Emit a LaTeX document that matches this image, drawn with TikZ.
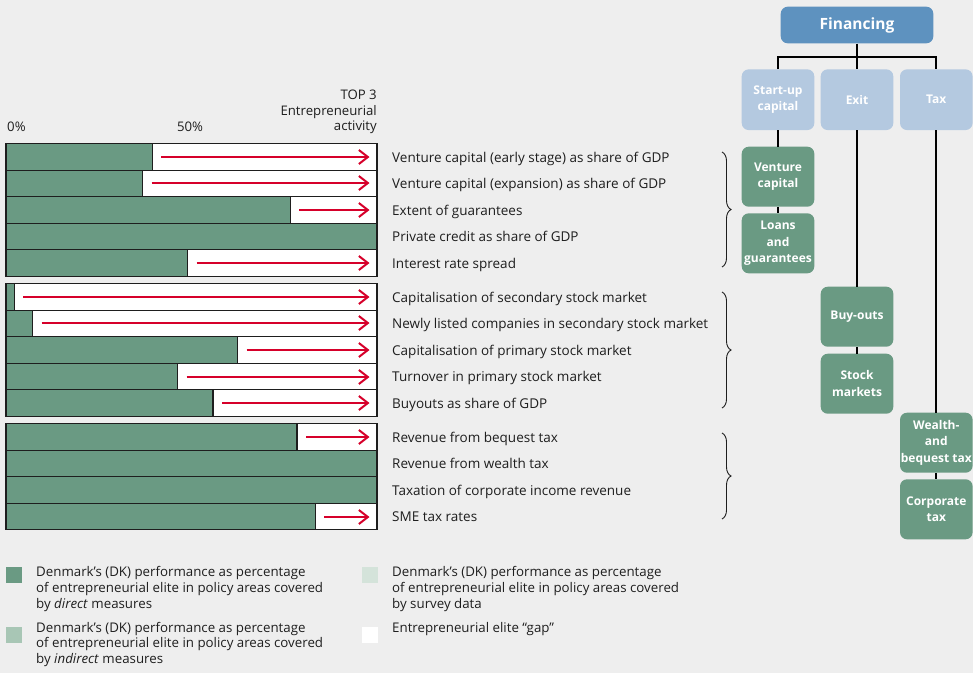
\documentclass[tikz,border=0pt]{standalone}
\usepackage{fontspec}
\setmainfont{Open Sans}
\usetikzlibrary{arrows.meta,decorations.pathreplacing}

\definecolor{bg}{HTML}{EEEEEE}
\definecolor{ink}{HTML}{1E1E1E}
\definecolor{dkgreen}{HTML}{6A9A83}
\definecolor{midgreen}{HTML}{A8C6B5}
\definecolor{palegreen}{HTML}{D4E3DA}
\definecolor{gapred}{HTML}{D6002A}
\definecolor{topblue}{HTML}{5E92BF}
\definecolor{paleblue}{HTML}{B4C9E0}

\begin{document}
\begin{tikzpicture}[x=1pt,y=-1pt,
  lbl/.style={anchor=base west,inner sep=0pt,text=ink,font=\fontsize{13.5}{16}\selectfont},
  hdr/.style={inner sep=0pt,text=ink,font=\fontsize{13.2}{15.8}\selectfont},
  legtext/.style={anchor=north west,inner sep=0pt,align=left,text=ink,font=\fontsize{13.3}{15.6}\selectfont},
  barline/.style={draw=ink,line width=1.1pt},
  gaparrow/.style={draw=gapred,line width=2pt,-{Straight Barb[length=9pt,width=14pt]}},
  grpbrace/.style={draw=ink,line width=0.9pt,decorate,decoration={brace,amplitude=9pt}},
  conn/.style={draw=black,line width=1.9pt},
  tbox/.style={rounded corners=7pt,minimum width=72.6pt,minimum height=60pt,inner sep=0pt,
    align=center,text=white,font=\bfseries\fontsize{12}{16.7}\selectfont},
  leaf/.style={tbox,fill=dkgreen},
  branch/.style={tbox,fill=paleblue,minimum height=60.7pt},
]
\useasboundingbox[fill=bg] (0,0) rectangle (973,673);

% ---------- scale header ----------
\node[hdr,anchor=base west] (p0) at (7,131.5) {0\%};
\node[hdr,anchor=base] (p50) at (190,131.5) {50\%};
\node[hdr,anchor=north east,align=right] (top3) at (377,89.5) {TOP 3\\Entrepreneurial\\activity};

% ---------- bars: top of row / end of DK share / arrow height ----------
\foreach \yy/\gx/\ya in {143.5/152.3/157, 170.1/142.7/183, 196.7/290.3/210, 223.3/377/237, 249.9/187.7/263,
                     283.5/14.3/297, 310.1/32.7/323, 336.7/237.7/350, 363.3/177.7/377, 389.9/213/403,
                     423.5/297/437, 450.1/377/463, 476.7/377/490, 503.3/315.3/517} {
  \fill[white] (6,\yy) rectangle (377,\yy+26.6);
  \fill[dkgreen] (6,\yy) rectangle (\gx,\yy+26.6);
  \draw[barline] (6,\yy) rectangle (377,\yy+26.6);
  \draw[barline] (\gx,\yy) -- (\gx,\yy+26.6);
  \ifdim \gx pt<370pt
    \draw[gaparrow] (\gx+9,\ya) -- (369.5,\ya);
  \fi
}

% ---------- indicator labels ----------
\node[lbl] (r1)  at (392,162.0) {Venture capital (early stage) as share of GDP};
\node[lbl] (r2)  at (392,188.6) {Venture capital (expansion) as share of GDP};
\node[lbl] (r3)  at (392,215.2) {Extent of guarantees};
\node[lbl] (r4)  at (392,241.8) {Private credit as share of GDP};
\node[lbl] (r5)  at (392,268.4) {Interest rate spread};
\node[lbl] (r6)  at (392,302.0) {Capitalisation of secondary stock market};
\node[lbl] (r7)  at (392,328.6) {Newly listed companies in secondary stock market};
\node[lbl] (r8)  at (392,355.2) {Capitalisation of primary stock market};
\node[lbl] (r9)  at (392,381.8) {Turnover in primary stock market};
\node[lbl] (r10) at (392,408.4) {Buyouts as share of GDP};
\node[lbl] (r11) at (392,442.0) {Revenue from bequest tax};
\node[lbl] (r12) at (392,468.6) {Revenue from wealth tax};
\node[lbl] (r13) at (392,495.2) {Taxation of corporate income revenue};
\node[lbl] (r14) at (392,521.8) {SME tax rates};

% ---------- group braces ----------
\draw[grpbrace] (722,152) -- (722,267);
\draw[grpbrace] (722,292) -- (722,408);
\draw[grpbrace] (722,433) -- (722,519);

% ---------- financing tree ----------
\node[tbox,fill=topblue,minimum width=152.6pt,minimum height=36.6pt,
      font=\bfseries\fontsize{15.5}{18}\selectfont] (fin) at (857,25) {Financing};
\node[branch] (su)  at (778,99.7)   {Start-up\\capital};
\node[branch] (ex)  at (857,99.7)   {Exit};
\node[branch] (tx)  at (936.3,99.7) {Tax};
\node[leaf] (vc)  at (778,176.7)   {Venture\\capital};
\node[leaf] (lg)  at (778,243.3)   {Loans\\and\\guarantees};
\node[leaf] (bo)  at (857,316.7)   {Buy-outs};
\node[leaf] (sm)  at (857,383.7)   {Stock\\markets};
\node[leaf] (wb)  at (936.3,442.7) {Wealth-\\and\\bequest tax};
\node[leaf] (ct)  at (936.3,509.3) {Corporate\\tax};

\coordinate (bus) at (857,57.3);
\draw[conn] (fin.south) -- (bus);
\draw[conn] (su.north) |- (bus) -| (tx.north);
\draw[conn] (bus) -- (ex.north);
\draw[conn] (su.south) -- (vc.north);
\draw[conn] (vc.south) -- (lg.north);
\draw[conn] (ex.south) -- (bo.north);
\draw[conn] (bo.south) -- (sm.north);
\draw[conn] (tx.south) -- (wb.north);
\draw[conn] (wb.south) -- (ct.north);

% ---------- legend ----------
\fill[dkgreen]   (5.5,567) rectangle (21.5,583);
\fill[midgreen]  (5.5,627) rectangle (21.5,643);
\fill[palegreen] (362,567) rectangle (378,583);
\fill[white]     (362,627) rectangle (378,643);
\node[legtext] (lg1) at (36,566.5) {Denmark’s (DK) performance as percentage\\of entrepreneurial elite in policy areas covered\\by \emph{direct} measures};
\node[legtext] (lg2) at (36,621.8) {Denmark’s (DK) performance as percentage\\of entrepreneurial elite in policy areas covered\\by \emph{indirect} measures};
\node[legtext] (lg3) at (392,566.5) {Denmark’s (DK) performance as percentage\\of entrepreneurial elite in policy areas covered\\by survey data};
\node[legtext] (lg4) at (392,621.8) {Entrepreneurial elite “gap”};
\end{tikzpicture}
\end{document}
